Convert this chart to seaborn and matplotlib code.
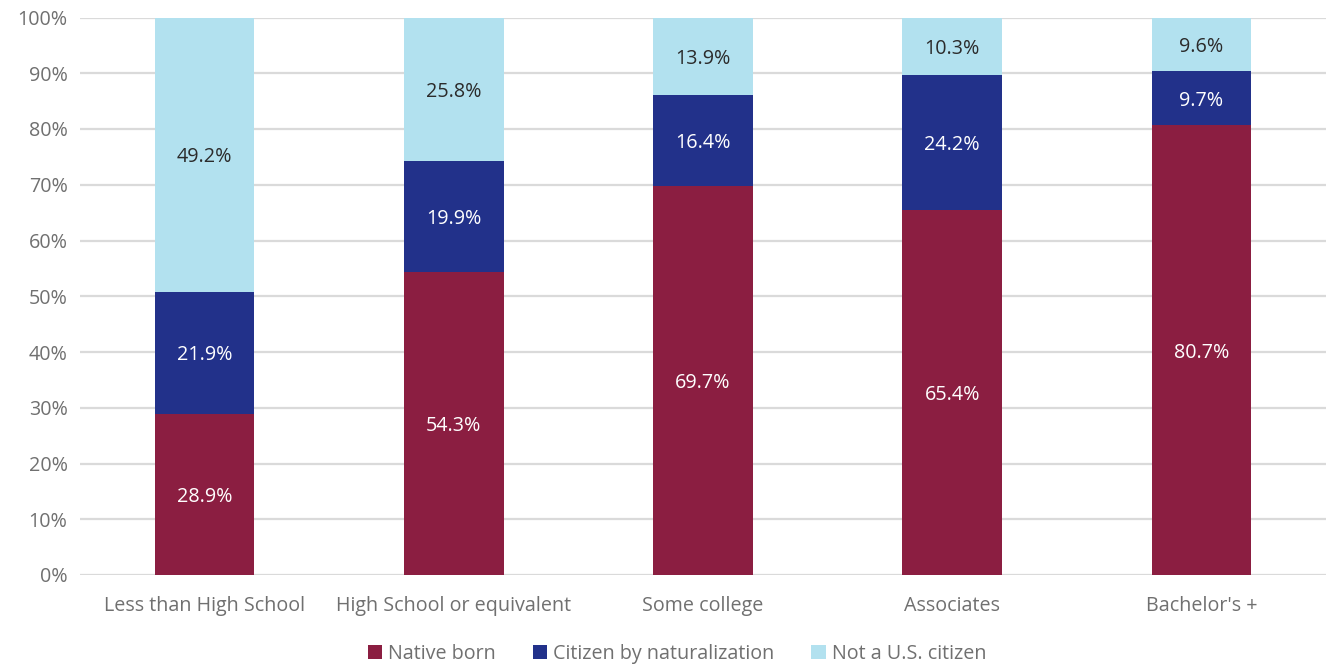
import numpy as np
import pandas as pd
import matplotlib
matplotlib.use("Agg")
import matplotlib.pyplot as plt
import seaborn as sns
from matplotlib.patches import Patch
from matplotlib.ticker import PercentFormatter

categories = ["Less than High School", "High School or equivalent", "Some college",
              "Associates", "Bachelor's +"]
native_born = [28.9, 54.3, 69.7, 65.4, 80.7]
naturalized = [21.9, 19.9, 16.4, 24.2, 9.7]
not_citizen = [49.2, 25.8, 13.9, 10.3, 9.6]
series_names = ["Native born", "Citizen by naturalization", "Not a U.S. citizen"]
colors = ["#8B1E41", "#22318A", "#B2E1EF"]
label_colors = ["white", "white", "#2b2b2b"]
y_ticks = list(range(0, 101, 10))

sns.set_theme(style="white")
plt.rcParams["font.family"] = ["Open Sans", "DejaVu Sans"]

segments = np.array([native_born, naturalized, not_citizen])
tops = segments.cumsum(axis=0)
bottoms = tops - segments

fig = plt.figure(figsize=(13.26, 6.66), dpi=100)
ax = fig.add_axes([80 / 1326, 1 - 575 / 666, 1246 / 1326, (575 - 17.5) / 666])

# stacked bars: draw cumulative totals from the top layer down
for i in reversed(range(3)):
    d = pd.DataFrame({"category": categories, "value": tops[i]})
    sns.barplot(data=d, x="category", y="value", color=colors[i], width=0.4,
                saturation=1, ax=ax, zorder=2, linewidth=0)

for i in range(3):
    for j in range(len(categories)):
        ax.text(j, bottoms[i, j] + segments[i, j] / 2, f"{segments[i, j]:.1f}%",
                ha="center", va="center_baseline", fontsize=14.2,
                color=label_colors[i], zorder=3)

ax.set_xlim(-0.5, 4.5)
ax.set_ylim(0, 100)
ax.set_yticks(y_ticks)
ax.yaxis.set_major_formatter(PercentFormatter(decimals=0))
ax.grid(axis="y", color="#dadada", linewidth=1.6, zorder=0)
ax.set_axisbelow(True)
for s in ax.spines.values():
    s.set_visible(False)
ax.set_xlabel("")
ax.set_ylabel("")
ax.tick_params(axis="both", length=0, labelsize=14.2, labelcolor="#707070")
ax.tick_params(axis="y", pad=9)
ax.tick_params(axis="x", pad=15)

handles = [Patch(facecolor=c, edgecolor="none", label=n) for c, n in zip(colors, series_names)]
fig.legend(handles=handles, loc="center", bbox_to_anchor=(677 / 1326, 1 - 654 / 666), ncol=3,
           frameon=False, fontsize=14.2, labelcolor="#707070", handlelength=0.75,
           handleheight=0.75, handletextpad=0.3, columnspacing=1.85)

fig.savefig("out.png", dpi=100)
